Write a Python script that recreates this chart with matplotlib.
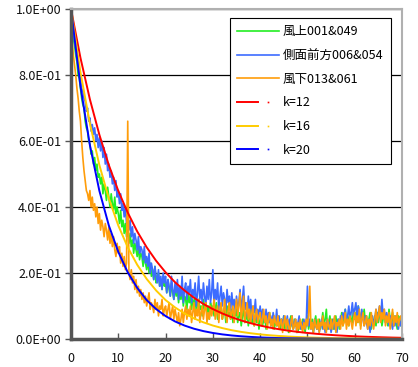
import matplotlib
matplotlib.use("Agg")
import matplotlib.pyplot as plt
import numpy as np
from matplotlib.legend_handler import HandlerTuple
from matplotlib.lines import Line2D

plt.rcParams["font.family"] = ["Noto Sans CJK JP", "DejaVu Sans"]

# measured series, sampled every 0.25 s (one row = 5 s)
t = np.arange(0, 70.001, 0.25)

upwind = [
    1.00, 0.95, 0.91, 0.89, 0.86, 0.84, 0.80, 0.79, 0.76, 0.73, 0.71, 0.70, 0.66, 0.64, 0.63, 0.60, 0.59, 0.56, 0.57, 0.53,
    0.55, 0.51, 0.53, 0.49, 0.50, 0.47, 0.49, 0.44, 0.47, 0.45, 0.42, 0.46, 0.43, 0.40, 0.44, 0.41, 0.39, 0.43, 0.38, 0.40,
    0.38, 0.35, 0.39, 0.34, 0.36, 0.32, 0.35, 0.31, 0.33, 0.29, 0.32, 0.28, 0.30, 0.26, 0.29, 0.27, 0.25, 0.28, 0.24, 0.26,
    0.25, 0.22, 0.26, 0.23, 0.21, 0.24, 0.20, 0.23, 0.19, 0.21, 0.18, 0.22, 0.17, 0.19, 0.20, 0.16, 0.18, 0.15, 0.19, 0.16,
    0.17, 0.14, 0.18, 0.15, 0.13, 0.17, 0.14, 0.12, 0.16, 0.13, 0.15, 0.11, 0.14, 0.12, 0.15, 0.10, 0.13, 0.12, 0.09, 0.14,
    0.11, 0.13, 0.09, 0.12, 0.10, 0.13, 0.08, 0.11, 0.12, 0.09, 0.10, 0.07, 0.12, 0.09, 0.11, 0.08, 0.10, 0.06, 0.11, 0.09,
    0.10, 0.07, 0.09, 0.11, 0.06, 0.09, 0.08, 0.10, 0.06, 0.08, 0.09, 0.05, 0.10, 0.07, 0.08, 0.06, 0.09, 0.05, 0.08, 0.07,
    0.09, 0.05, 0.07, 0.08, 0.04, 0.07, 0.09, 0.05, 0.06, 0.08, 0.04, 0.07, 0.10, 0.05, 0.06, 0.04, 0.08, 0.05, 0.07, 0.03,
    0.06, 0.08, 0.04, 0.06, 0.07, 0.03, 0.06, 0.05, 0.08, 0.04, 0.05, 0.07, 0.03, 0.06, 0.04, 0.07, 0.05, 0.03, 0.06, 0.04,
    0.07, 0.03, 0.05, 0.06, 0.02, 0.05, 0.07, 0.04, 0.03, 0.06, 0.04, 0.05, 0.02, 0.06, 0.04, 0.03, 0.06, 0.05, 0.02, 0.05,
    0.07, 0.03, 0.05, 0.04, 0.06, 0.02, 0.05, 0.07, 0.03, 0.04, 0.06, 0.03, 0.05, 0.08, 0.04, 0.06, 0.09, 0.03, 0.05, 0.07,
    0.04, 0.06, 0.03, 0.05, 0.07, 0.04, 0.06, 0.03, 0.05, 0.08, 0.04, 0.06, 0.09, 0.05, 0.07, 0.04, 0.08, 0.06, 0.05, 0.09,
    0.06, 0.08, 0.05, 0.10, 0.07, 0.04, 0.08, 0.06, 0.09, 0.05, 0.07, 0.04, 0.06, 0.08, 0.03, 0.06, 0.05, 0.07, 0.04, 0.08,
    0.05, 0.07, 0.09, 0.04, 0.06, 0.08, 0.05, 0.07, 0.04, 0.09, 0.06, 0.05, 0.08, 0.04, 0.07, 0.05, 0.03, 0.07, 0.06, 0.04,
    0.06,
]

side_front = [
    1.00, 0.96, 0.93, 0.90, 0.88, 0.85, 0.83, 0.80, 0.79, 0.76, 0.75, 0.73, 0.72, 0.69, 0.70, 0.66, 0.67, 0.63, 0.65, 0.62,
    0.64, 0.60, 0.62, 0.58, 0.61, 0.57, 0.60, 0.55, 0.58, 0.53, 0.56, 0.51, 0.53, 0.49, 0.51, 0.47, 0.49, 0.45, 0.48, 0.43,
    0.45, 0.41, 0.44, 0.39, 0.41, 0.37, 0.40, 0.35, 0.38, 0.33, 0.36, 0.31, 0.34, 0.29, 0.32, 0.30, 0.27, 0.31, 0.26, 0.28,
    0.27, 0.24, 0.28, 0.23, 0.25, 0.22, 0.26, 0.20, 0.23, 0.21, 0.18, 0.22, 0.19, 0.17, 0.21, 0.16, 0.19, 0.15, 0.20, 0.17,
    0.19, 0.14, 0.18, 0.16, 0.13, 0.19, 0.15, 0.12, 0.17, 0.14, 0.18, 0.12, 0.16, 0.13, 0.19, 0.11, 0.15, 0.17, 0.12, 0.16,
    0.14, 0.18, 0.11, 0.15, 0.13, 0.17, 0.10, 0.14, 0.19, 0.12, 0.15, 0.11, 0.17, 0.13, 0.10, 0.16, 0.12, 0.18, 0.11, 0.14,
    0.21, 0.10, 0.15, 0.12, 0.17, 0.09, 0.13, 0.16, 0.10, 0.14, 0.12, 0.09, 0.15, 0.11, 0.13, 0.08, 0.14, 0.10, 0.12, 0.08,
    0.13, 0.09, 0.11, 0.15, 0.08, 0.12, 0.16, 0.09, 0.11, 0.07, 0.13, 0.09, 0.12, 0.06, 0.10, 0.08, 0.12, 0.06, 0.09, 0.07,
    0.10, 0.06, 0.09, 0.07, 0.05, 0.09, 0.06, 0.08, 0.05, 0.07, 0.04, 0.08, 0.06, 0.05, 0.09, 0.04, 0.07, 0.05, 0.06, 0.03,
    0.07, 0.05, 0.04, 0.07, 0.03, 0.06, 0.04, 0.07, 0.03, 0.05, 0.06, 0.02, 0.05, 0.07, 0.03, 0.05, 0.04, 0.06, 0.03, 0.05,
    0.16, 0.04, 0.06, 0.03, 0.05, 0.02, 0.06, 0.04, 0.03, 0.05, 0.02, 0.04, 0.06, 0.03, 0.05, 0.02, 0.04, 0.06, 0.03, 0.05,
    0.02, 0.04, 0.06, 0.03, 0.05, 0.02, 0.06, 0.04, 0.07, 0.05, 0.08, 0.06, 0.09, 0.05, 0.07, 0.10, 0.06, 0.08, 0.11, 0.07,
    0.09, 0.11, 0.06, 0.10, 0.08, 0.05, 0.09, 0.06, 0.04, 0.07, 0.05, 0.03, 0.06, 0.02, 0.05, 0.07, 0.04, 0.06, 0.09, 0.05,
    0.08, 0.10, 0.06, 0.12, 0.07, 0.09, 0.05, 0.08, 0.06, 0.04, 0.07, 0.05, 0.03, 0.06, 0.04, 0.07, 0.05, 0.03, 0.06, 0.04,
    0.05,
]

downwind = [
    1.00, 0.90, 0.86, 0.83, 0.80, 0.76, 0.73, 0.69, 0.66, 0.60, 0.55, 0.51, 0.48, 0.45, 0.44, 0.42, 0.45, 0.40, 0.43, 0.39,
    0.41, 0.37, 0.40, 0.35, 0.38, 0.33, 0.36, 0.34, 0.31, 0.35, 0.33, 0.30, 0.34, 0.29, 0.32, 0.28, 0.31, 0.27, 0.25, 0.29,
    0.26, 0.28, 0.23, 0.26, 0.22, 0.25, 0.21, 0.23, 0.66, 0.20, 0.18, 0.21, 0.17, 0.19, 0.15, 0.18, 0.14, 0.16, 0.13, 0.15,
    0.12, 0.14, 0.11, 0.13, 0.10, 0.12, 0.14, 0.09, 0.11, 0.10, 0.08, 0.12, 0.09, 0.11, 0.07, 0.10, 0.09, 0.12, 0.07, 0.09,
    0.10, 0.07, 0.09, 0.11, 0.06, 0.08, 0.10, 0.06, 0.09, 0.07, 0.05, 0.08, 0.04, 0.06, 0.09, 0.05, 0.08, 0.10, 0.06, 0.09,
    0.07, 0.10, 0.05, 0.08, 0.11, 0.06, 0.09, 0.07, 0.12, 0.05, 0.08, 0.10, 0.06, 0.09, 0.11, 0.05, 0.08, 0.06, 0.10, 0.07,
    0.09, 0.12, 0.06, 0.08, 0.10, 0.05, 0.09, 0.11, 0.06, 0.08, 0.12, 0.07, 0.05, 0.09, 0.11, 0.06, 0.08, 0.10, 0.05, 0.09,
    0.12, 0.07, 0.10, 0.14, 0.06, 0.09, 0.13, 0.05, 0.08, 0.11, 0.06, 0.09, 0.05, 0.08, 0.10, 0.04, 0.07, 0.09, 0.05, 0.07,
    0.08, 0.04, 0.06, 0.09, 0.05, 0.07, 0.03, 0.06, 0.08, 0.04, 0.06, 0.03, 0.07, 0.05, 0.04, 0.07, 0.03, 0.05, 0.06, 0.02,
    0.05, 0.07, 0.03, 0.06, 0.04, 0.02, 0.05, 0.07, 0.03, 0.04, 0.06, 0.02, 0.05, 0.03, 0.06, 0.04, 0.02, 0.05, 0.03, 0.06,
    0.04, 0.07, 0.16, 0.03, 0.05, 0.02, 0.06, 0.04, 0.03, 0.06, 0.02, 0.05, 0.04, 0.07, 0.03, 0.05, 0.02, 0.06, 0.04, 0.03,
    0.06, 0.03, 0.05, 0.07, 0.02, 0.05, 0.04, 0.06, 0.03, 0.07, 0.04, 0.05, 0.08, 0.03, 0.06, 0.04, 0.07, 0.05, 0.03, 0.06,
    0.08, 0.04, 0.07, 0.05, 0.09, 0.03, 0.06, 0.08, 0.04, 0.05, 0.07, 0.03, 0.06, 0.04, 0.08, 0.05, 0.03, 0.06, 0.09, 0.05,
    0.07, 0.10, 0.05, 0.08, 0.06, 0.09, 0.04, 0.07, 0.05, 0.08, 0.03, 0.06, 0.09, 0.04, 0.07, 0.05, 0.08, 0.04, 0.06, 0.07,
    0.05,
]

# model curves, read every 2 s
t_model = np.arange(0, 70.01, 2)
k12 = [1.000, 0.852, 0.726, 0.619, 0.527, 0.449, 0.383, 0.326, 0.278, 0.237,
       0.202, 0.172, 0.147, 0.125, 0.106, 0.0907, 0.0773, 0.0659, 0.0561, 0.0478,
       0.0408, 0.0347, 0.0296, 0.0252, 0.0215, 0.0183, 0.0156, 0.0133, 0.0113, 0.0097,
       0.0082, 0.0070, 0.0060, 0.0051, 0.0043, 0.0037]
k16 = [1.000, 0.808, 0.653, 0.527, 0.426, 0.344, 0.278, 0.225, 0.182, 0.147,
       0.118, 0.0957, 0.0773, 0.0625, 0.0505, 0.0408, 0.0330, 0.0266, 0.0215, 0.0174,
       0.0140, 0.0113, 0.0092, 0.0074, 0.0060, 0.0048, 0.0039, 0.0032, 0.0025, 0.0021,
       0.0017, 0.0013, 0.0011, 0.0009, 0.0007, 0.0006]
k20 = [1.000, 0.766, 0.587, 0.449, 0.344, 0.264, 0.202, 0.155, 0.118, 0.0907,
       0.0695, 0.0532, 0.0408, 0.0312, 0.0239, 0.0183, 0.0140, 0.0107, 0.0082, 0.0063,
       0.0048, 0.0037, 0.0028, 0.0022, 0.0017, 0.0013, 0.0010, 0.0008, 0.0006, 0.0004,
       0.0003, 0.0003, 0.0002, 0.0002, 0.0001, 0.0001]

labels = ["風上001&049", "側面前方006&054", "風下013&061", "k=12", "k=16", "k=20"]
colors = ["#22ee22", "#3d6cff", "#ff9d0a", "#ff0000", "#ffcc00", "#0000ff"]

fig = plt.figure(figsize=(4.18, 3.67), dpi=100)
ax = fig.add_axes([71 / 418, 1 - 339 / 367, 331 / 418, 330 / 367])

handles = []
for ys, c in zip([upwind, side_front, downwind], colors[:3]):
    ln, = ax.plot(t, ys, color=c, lw=1.2)
    handles.append(ln)
for ys, c in zip([k12, k16, k20], colors[3:]):
    ln, = ax.plot(t_model, ys, color=c, lw=1.4)
    dot = Line2D([], [], ls="none", marker="s", markersize=1.2, markeredgewidth=0, color=c)
    handles.append((ln, dot))

ax.set_xlim(0, 70)
ax.set_ylim(0, 1.0)
ax.set_xticks(np.arange(0, 71, 10))
ax.set_yticks(np.arange(0, 1.01, 0.2))
ax.yaxis.set_major_formatter(matplotlib.ticker.FuncFormatter(lambda v, p: f"{v:.1E}"))
ax.yaxis.grid(True, color="black", lw=0.9)
ax.set_axisbelow(True)

ax.tick_params(axis="y", direction="out", length=4, width=1, color="#555555",
               labelsize=9, pad=3, labelcolor="#111111")
ax.tick_params(axis="x", direction="in", length=4, width=1, color="#555555",
               labelsize=9, pad=9, labelcolor="#111111")
for s in ("left", "bottom"):
    ax.spines[s].set_color("#555555")
    ax.spines[s].set_linewidth(2.5)
for s in ("top", "right"):
    ax.spines[s].set_color("#b0b0b0")
    ax.spines[s].set_linewidth(1.5)

leg = ax.legend(handles, labels, loc="upper left", bbox_to_anchor=(0.48, 0.973),
                borderaxespad=0, fontsize=9, handlelength=3.3, handletextpad=0.3,
                labelspacing=0.85, fancybox=False, framealpha=1, edgecolor="black",
                borderpad=0.6, handler_map={tuple: HandlerTuple(ndivide=2, pad=0)})
leg.get_frame().set_linewidth(0.8)

fig.savefig("out.png", dpi=100)
